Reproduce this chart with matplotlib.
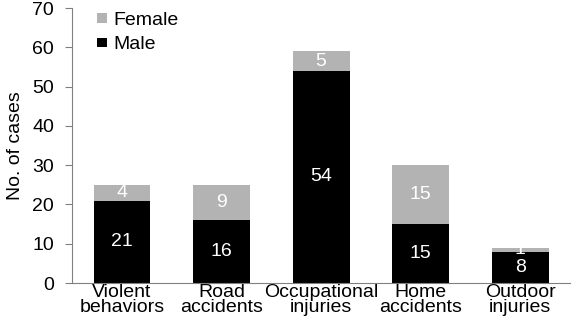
import matplotlib.pyplot as plt
import numpy as np

plt.rcParams['font.family'] = ['Liberation Sans', 'DejaVu Sans']

# injury categories and case counts by sex
categories = ['Violent\nbehaviors', 'Road\naccidents', 'Occupational\ninjuries',
              'Home\naccidents', 'Outdoor\ninjuries']
male = [21, 16, 54, 15, 8]
female = [4, 9, 5, 15, 1]

x = np.arange(len(categories))
fig = plt.figure(figsize=(5.73, 3.22), dpi=100)
ax = fig.add_axes([0.126, 0.121, 0.869, 0.854])

b_male = ax.bar(x, male, width=0.57, color='black', label='Male')
b_female = ax.bar(x, female, width=0.57, bottom=male, color='#b3b3b3', label='Female')

# value labels in the middle of each segment
for i in range(len(x)):
    ax.text(x[i], male[i] / 2, str(male[i]), ha='center', va='center',
            color='white', fontsize=14)
    ax.text(x[i], male[i] + female[i] / 2, str(female[i]), ha='center', va='center',
            color='white', fontsize=14)

ax.set_xlim(-0.5, 4.5)
ax.set_ylim(0, 70)
ax.set_yticks(range(0, 71, 10))
ax.set_xticks(x)
ax.set_xticklabels(categories, fontsize=14, linespacing=0.85)
ax.tick_params(axis='y', labelsize=14, length=5, color='#808080', pad=8)
ax.tick_params(axis='x', length=0, pad=1)
ax.set_ylabel('No. of cases', fontsize=14, labelpad=6)

for side in ['top', 'right']:
    ax.spines[side].set_visible(False)
ax.spines['left'].set_color('#808080')
ax.spines['bottom'].set_color('#808080')

ax.legend(handles=[b_female, b_male], loc='upper left', bbox_to_anchor=(0.035, 1.015),
          frameon=False, fontsize=14, handlelength=0.5, handleheight=0.4,
          handletextpad=0.3, labelspacing=0.4, borderaxespad=0)

fig.savefig('out.png', dpi=100)
